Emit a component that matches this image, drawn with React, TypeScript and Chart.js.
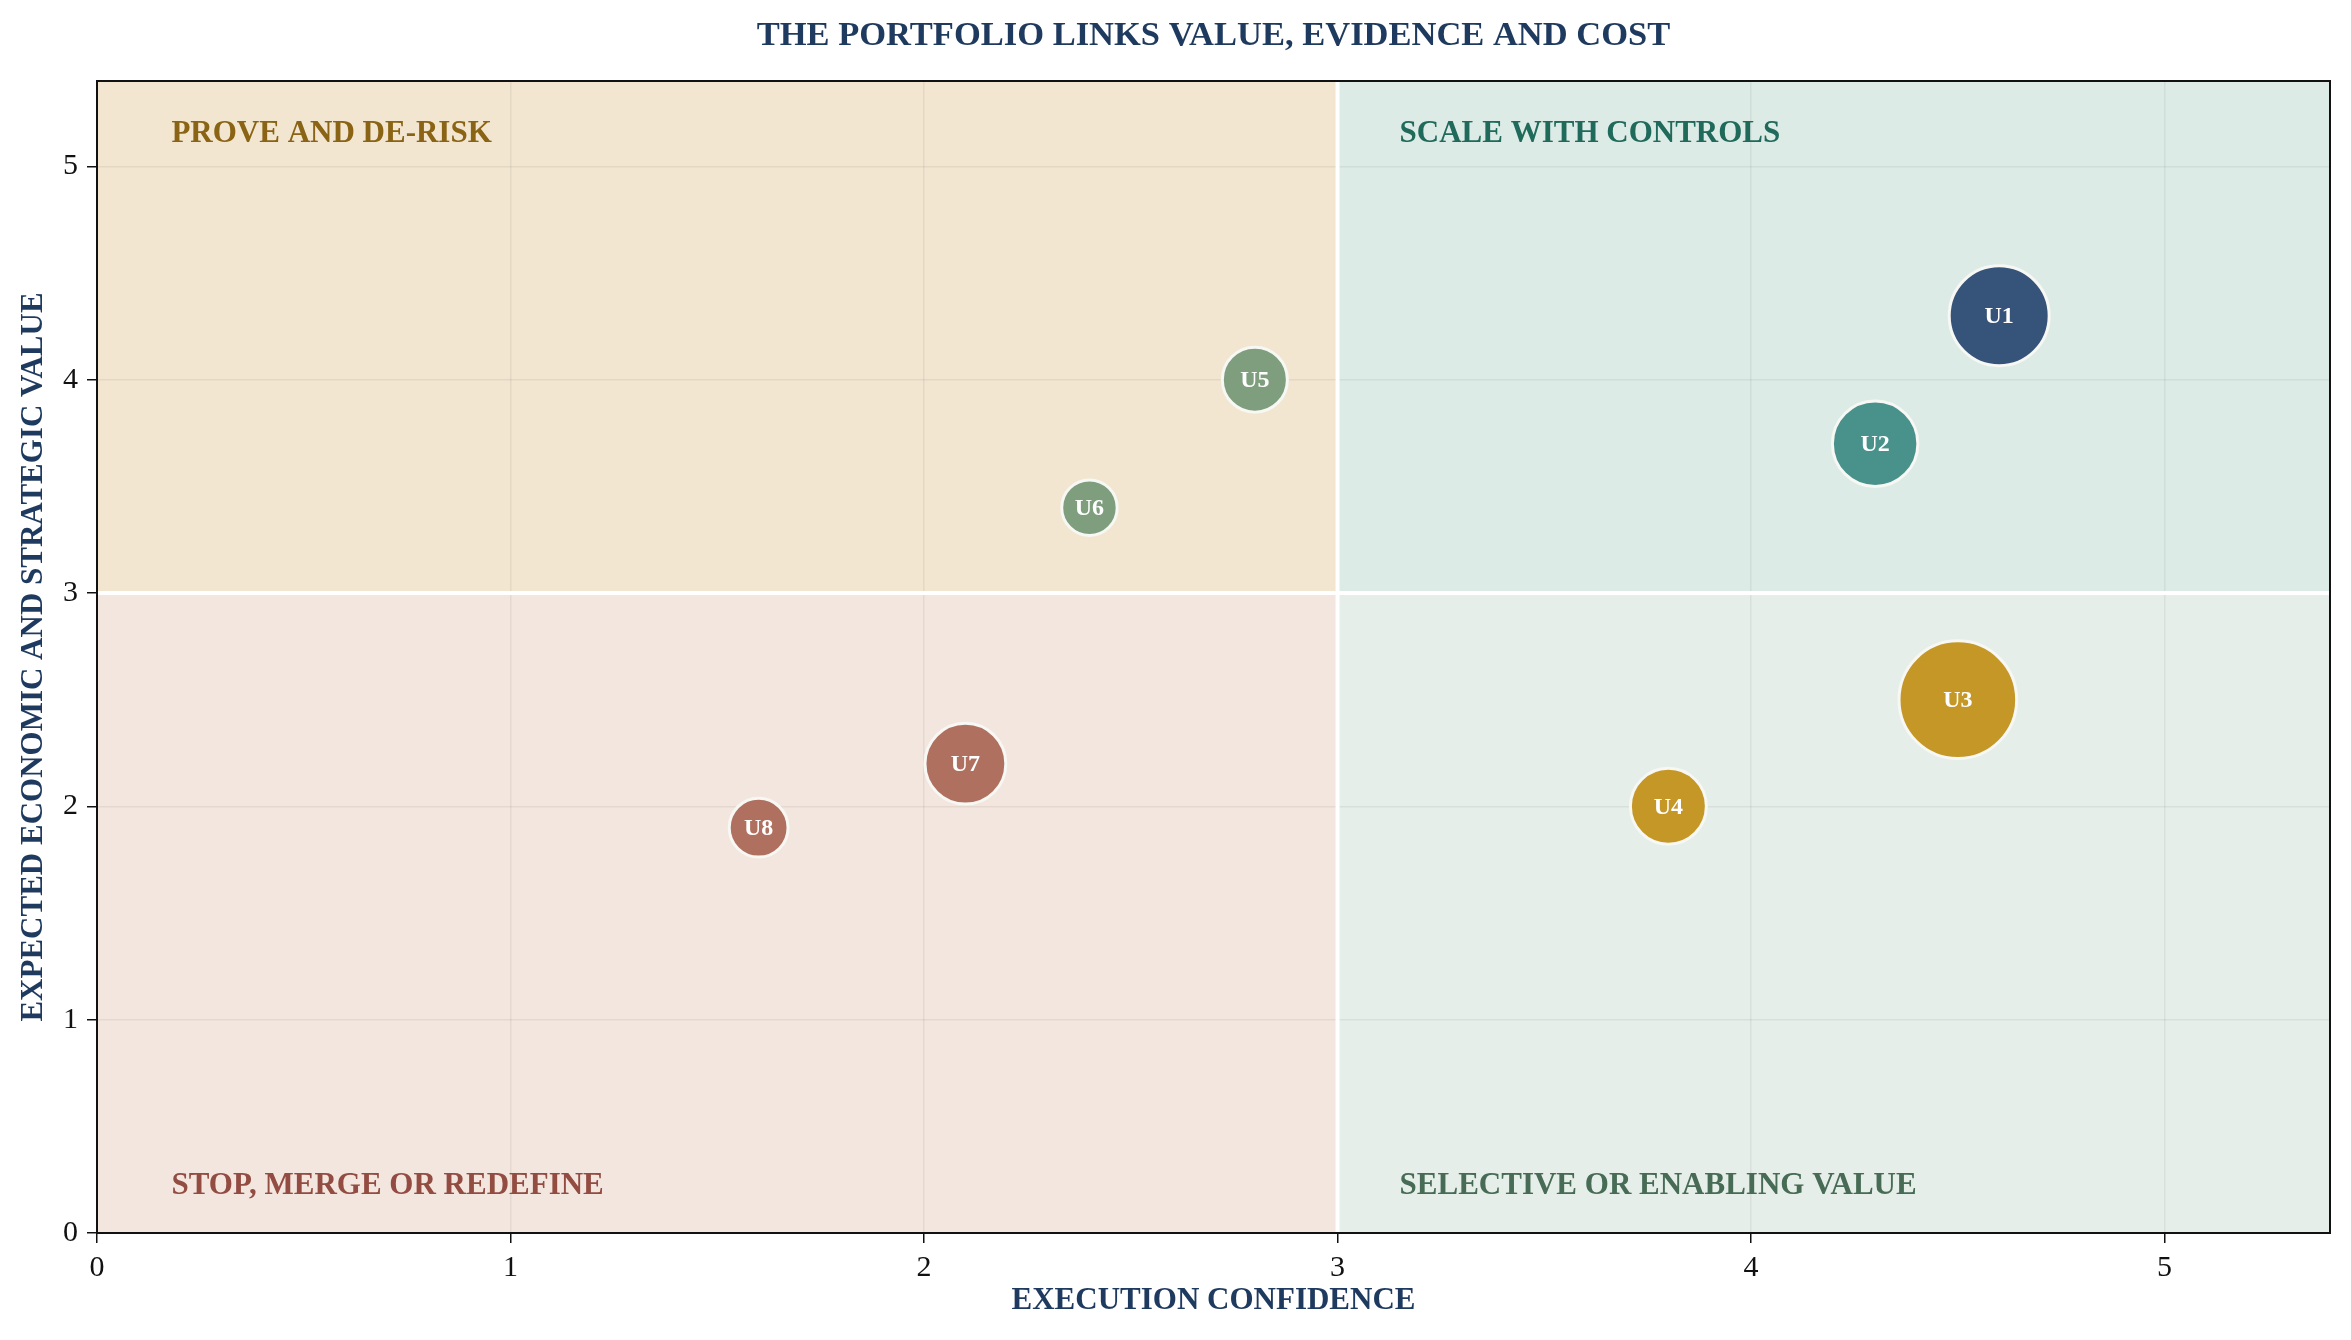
import React, { useEffect, useRef } from 'react';
import { Chart, registerables } from 'chart.js';

Chart.register(...registerables);

// initiatives: execution confidence (x), expected value (y), cost (bubble size)
const units = ['U1', 'U2', 'U3', 'U4', 'U5', 'U6', 'U7', 'U8'];
const confidence = [4.6, 4.3, 4.5, 3.8, 2.8, 2.4, 2.1, 1.6];
const value = [4.3, 3.7, 2.5, 2.0, 4.0, 3.4, 2.2, 1.9];
const cost = [2.6, 1.9, 3.6, 1.5, 1.1, 0.8, 1.7, 0.9];
const unitColors = ['#36547a', '#49928c', '#c49727', '#c49727', '#7e9e7e', '#7e9e7e', '#b0705f', '#b0705f'];

const axisMax = 5.4;
const threshold = 3;

const chartTitle = 'THE PORTFOLIO LINKS VALUE, EVIDENCE AND COST';
const quadrantNames = ['PROVE AND DE-RISK', 'SCALE WITH CONTROLS', 'STOP, MERGE OR REDEFINE', 'SELECTIVE OR ENABLING VALUE'];
const quadrantFills = ['#f2e6d1', '#ddebe7', '#f3e6df', '#e6eee9'];
const quadrantInk = ['#8a6414', '#1f6a5a', '#934c42', '#476b55'];

const SERIF = "'Liberation Serif', 'Times New Roman', serif";
const NAVY = '#1f3a5f';

const quadrantPlugin = {
  id: 'quadrants',
  beforeDraw(chart: any) {
    const { ctx, scales, chartArea } = chart;
    const xs = scales.x;
    const ys = scales.y;
    const x0 = xs.getPixelForValue(0);
    const xm = xs.getPixelForValue(threshold);
    const x1 = xs.getPixelForValue(axisMax);
    const y0 = ys.getPixelForValue(0);
    const ym = ys.getPixelForValue(threshold);
    const y1 = ys.getPixelForValue(axisMax);
    ctx.save();
    ctx.fillStyle = quadrantFills[0];
    ctx.fillRect(x0, y1, xm - x0, ym - y1);
    ctx.fillStyle = quadrantFills[1];
    ctx.fillRect(xm, y1, x1 - xm, ym - y1);
    ctx.fillStyle = quadrantFills[2];
    ctx.fillRect(x0, ym, xm - x0, y0 - ym);
    ctx.fillStyle = quadrantFills[3];
    ctx.fillRect(xm, ym, x1 - xm, y0 - ym);

    // title centred over the plot area
    ctx.font = `bold 34.5px ${SERIF}`;
    ctx.fillStyle = NAVY;
    ctx.textAlign = 'center';
    ctx.textBaseline = 'alphabetic';
    ctx.fillText(chartTitle, (chartArea.left + chartArea.right) / 2, 45);
    ctx.restore();
  },
  beforeDatasetsDraw(chart: any) {
    const { ctx, scales, chartArea } = chart;
    const xs = scales.x;
    const ys = scales.y;
    ctx.save();
    // divider lines
    ctx.strokeStyle = '#ffffff';
    ctx.lineWidth = 4;
    ctx.beginPath();
    ctx.moveTo(xs.getPixelForValue(threshold), chartArea.top);
    ctx.lineTo(xs.getPixelForValue(threshold), chartArea.bottom);
    ctx.moveTo(chartArea.left, ys.getPixelForValue(threshold));
    ctx.lineTo(chartArea.right, ys.getPixelForValue(threshold));
    ctx.stroke();

    // quadrant names
    ctx.font = `bold 31px ${SERIF}`;
    ctx.textAlign = 'left';
    ctx.textBaseline = 'middle';
    const spots = [
      [0.18, 5.15],
      [threshold + 0.15, 5.15],
      [0.18, 0.22],
      [threshold + 0.15, 0.22],
    ];
    spots.forEach(([vx, vy], i) => {
      ctx.fillStyle = quadrantInk[i];
      ctx.fillText(quadrantNames[i], xs.getPixelForValue(vx), ys.getPixelForValue(vy));
    });

    // frame
    ctx.strokeStyle = '#111111';
    ctx.lineWidth = 2;
    ctx.strokeRect(chartArea.left, chartArea.top, chartArea.right - chartArea.left, chartArea.bottom - chartArea.top);
    ctx.restore();
  },
  afterDatasetsDraw(chart: any) {
    const { ctx } = chart;
    const meta = chart.getDatasetMeta(0);
    ctx.save();
    ctx.font = `bold 24px ${SERIF}`;
    ctx.fillStyle = '#ffffff';
    ctx.textAlign = 'center';
    ctx.textBaseline = 'middle';
    meta.data.forEach((pt: any, i: number) => {
      ctx.fillText(units[i], pt.x, pt.y + 1);
    });
    ctx.restore();
  },
};

const App: React.FC = () => {
  const canvasRef = useRef<HTMLCanvasElement | null>(null);
  const chartRef = useRef<Chart | null>(null);

  useEffect(() => {
    if (!canvasRef.current) return;
    if (chartRef.current) chartRef.current.destroy();

    const points = units.map((_, i) => ({ x: confidence[i], y: value[i], r: 31 * Math.sqrt(cost[i]) }));

    chartRef.current = new Chart(canvasRef.current, {
      type: 'bubble',
      data: {
        datasets: [
          {
            label: 'Initiatives',
            data: points,
            backgroundColor: unitColors,
            borderColor: '#f7f7f4',
            borderWidth: 3,
          },
        ],
      },
      options: {
        responsive: false,
        animation: false,
        layout: { autoPadding: false, padding: { top: 81, right: 21, bottom: 0, left: 0 } },
        scales: {
          x: {
            type: 'linear',
            min: 0,
            max: axisMax,
            afterFit: (scale: any) => {
              scale.height = 107;
            },
            ticks: { stepSize: 1, includeBounds: false, color: '#111', padding: 7, font: { family: SERIF, size: 30 } },
            grid: { color: 'rgba(0,0,0,0.06)', lineWidth: 1.5, tickLength: 10, tickColor: '#111', tickWidth: 1.5 },
            border: { color: '#111', width: 2 },
            title: {
              display: true,
              text: 'EXECUTION CONFIDENCE',
              color: NAVY,
              font: { family: SERIF, size: 31, weight: 'bold' },
              padding: { top: 0, bottom: 20 },
            },
          },
          y: {
            type: 'linear',
            min: 0,
            max: axisMax,
            afterFit: (scale: any) => {
              scale.width = 97;
            },
            ticks: { stepSize: 1, includeBounds: false, color: '#111', padding: 9, font: { family: SERIF, size: 30 } },
            grid: { color: 'rgba(0,0,0,0.06)', lineWidth: 1.5, tickLength: 10, tickColor: '#111', tickWidth: 1.5 },
            border: { color: '#111', width: 2 },
            title: {
              display: true,
              text: 'EXPECTED ECONOMIC AND STRATEGIC VALUE',
              color: NAVY,
              font: { family: SERIF, size: 31, weight: 'bold' },
              padding: { top: 15, bottom: 0 },
            },
          },
        },
        plugins: {
          legend: { display: false },
          tooltip: { enabled: false },
          title: { display: false },
        },
      },
      plugins: [quadrantPlugin],
    });

    return () => {
      if (chartRef.current) {
        chartRef.current.destroy();
        chartRef.current = null;
      }
    };
  }, []);

  return (
    <div style={{ position: 'fixed', left: 0, top: 0, width: 2351, height: 1340, background: '#fff' }}>
      <canvas ref={canvasRef} width={2351} height={1340} style={{ display: 'block' }} />
    </div>
  );
};

export default App;
